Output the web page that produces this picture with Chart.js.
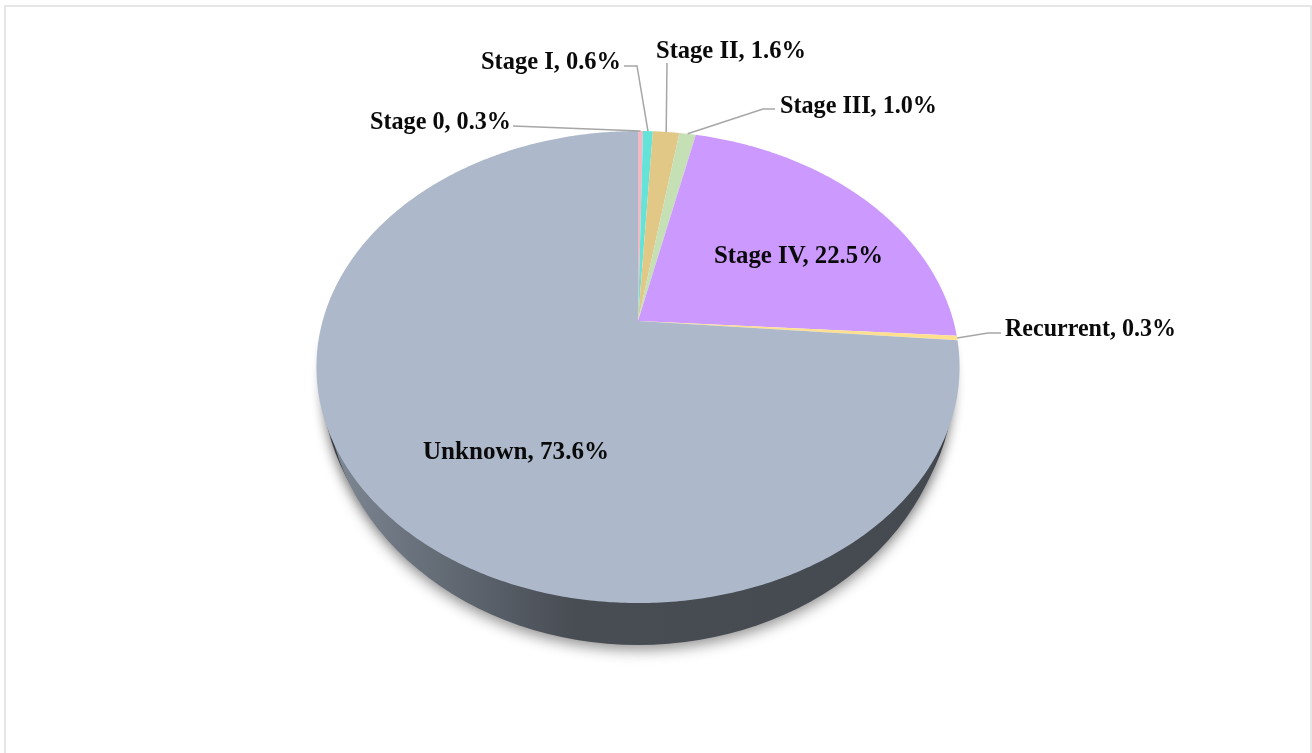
<!DOCTYPE html>
<html>
<head>
<meta charset="utf-8">
<title>Stage distribution</title>
<script src="https://cdn.jsdelivr.net/npm/chart.js@4"></script>
<style>
  html, body { margin: 0; padding: 0; background: #fff; overflow: hidden; }
  #frame { position: absolute; left: 4px; top: 5px; width: 1304px; height: 800px; border: 2px solid #e6e6e6; box-sizing: content-box; }
  #myChart { position: absolute; left: 0; top: 0; }
</style>
</head>
<body>
<div id="frame"></div>
<canvas id="myChart" width="1312" height="753"></canvas>
<script>
const categories = ['Stage 0', 'Stage I', 'Stage II', 'Stage III', 'Stage IV', 'Recurrent', 'Unknown'];
const shares = [0.3, 0.6, 1.6, 1.0, 22.5, 0.3, 73.6];
const sliceColors = ['#f4b8c4', '#66e3d9', '#e2c886', '#c5e0b4', '#cc99ff', '#ffe08f', '#adb9ca'];

// where each label sits, and the elbow of its leader line (null = no leader)
const labelCenters = [[440.5, 122], [551, 62], [731, 51], [858.5, 106], [798.5, 256], [1090.5, 329], [516, 452]];
const labelWidths = [141, 140, 150, 157, 169, 171, 186];
const leaderStarts = [[513, 126], [624, 66], [667, 63], [775, 109], null, [1001, 333], null];
const leaderElbows = [null, [637, 66], null, [763, 109], null, [988, 333], null];

// perspective of the tilted top face, relative to the pie radius
const tilt = -0.195, stretchX = 1.66, stretchY = 1.195;

function project(arc, angle) {
  const c = Math.cos(angle), s = Math.sin(angle), d = 1 + tilt * s;
  return { x: arc.x + arc.outerRadius * stretchX * c / d, y: arc.y + arc.outerRadius * stretchY * s / d };
}

const tiltedPie = {
  id: 'tiltedPie',
  beforeDatasetDraw(chart, args) {
    const ctx = chart.ctx;
    const arcs = chart.getDatasetMeta(args.index).data;
    const first = arcs[0];

    // ground shadow and side wall, clip edge stays hidden under the top face
    ctx.save();
    ctx.beginPath();
    ctx.rect(0, first.y + 20, chart.width, chart.height);
    ctx.clip();
    ctx.shadowColor = 'rgba(0,0,0,0.28)';
    ctx.shadowBlur = 12;
    ctx.shadowOffsetY = 2;
    ctx.fillStyle = '#484c53';
    ctx.beginPath();
    ctx.ellipse(first.x, first.y + 60, 316, 250, 0, 0, Math.PI * 2);
    ctx.fill();
    ctx.shadowColor = 'rgba(0,0,0,0.42)';
    ctx.shadowBlur = 14;
    ctx.shadowOffsetY = 5;
    const wall = ctx.createLinearGradient(326, 0, 950, 0);
    wall.addColorStop(0, '#808a96');
    wall.addColorStop(0.1, '#6f7883');
    wall.addColorStop(0.26, '#596069');
    wall.addColorStop(0.4, '#484c53');
    wall.addColorStop(1, '#454a50');
    ctx.fillStyle = wall;
    ctx.beginPath();
    ctx.ellipse(first.x, first.y + 64, 312, 260, 0, 0, Math.PI * 2);
    ctx.fill();
    ctx.restore();

    // top face, one slice at a time
    arcs.forEach((arc, i) => {
      const steps = Math.max(4, Math.ceil((arc.endAngle - arc.startAngle) / 0.01));
      ctx.beginPath();
      ctx.moveTo(arc.x, arc.y);
      for (let k = 0; k <= steps; k++) {
        const p = project(arc, arc.startAngle + (arc.endAngle - arc.startAngle) * k / steps);
        ctx.lineTo(p.x, p.y);
      }
      ctx.closePath();
      ctx.fillStyle = sliceColors[i];
      ctx.fill();
    });
    return false;
  },
  afterDatasetsDraw(chart) {
    const ctx = chart.ctx;
    const arcs = chart.getDatasetMeta(0).data;
    ctx.save();
    ctx.strokeStyle = '#a6a6a6';
    ctx.lineWidth = 1.5;
    arcs.forEach((arc, i) => {
      if (!leaderStarts[i]) return;
      const end = project(arc, (arc.startAngle + arc.endAngle) / 2);
      ctx.beginPath();
      ctx.moveTo(leaderStarts[i][0], leaderStarts[i][1]);
      if (leaderElbows[i]) ctx.lineTo(leaderElbows[i][0], leaderElbows[i][1]);
      ctx.lineTo(end.x, end.y);
      ctx.stroke();
    });
    ctx.fillStyle = '#0a0a0a';
    ctx.font = 'bold 25.3px "Liberation Serif"';
    ctx.textAlign = 'center';
    ctx.textBaseline = 'middle';
    categories.forEach((name, i) => {
      ctx.fillText(name + ', ' + shares[i].toFixed(1) + '%', labelCenters[i][0], labelCenters[i][1], labelWidths[i]);
    });
    ctx.restore();
  }
};

new Chart(document.getElementById('myChart'), {
  type: 'pie',
  data: {
    labels: categories,
    datasets: [{ data: shares, backgroundColor: sliceColors, borderWidth: 0 }]
  },
  options: {
    responsive: false,
    animation: false,
    layout: { padding: { top: 131, bottom: 242, left: 0, right: 36 } },
    plugins: { legend: { display: false }, tooltip: { enabled: false } }
  },
  plugins: [tiltedPie]
});
</script>
</body>
</html>
